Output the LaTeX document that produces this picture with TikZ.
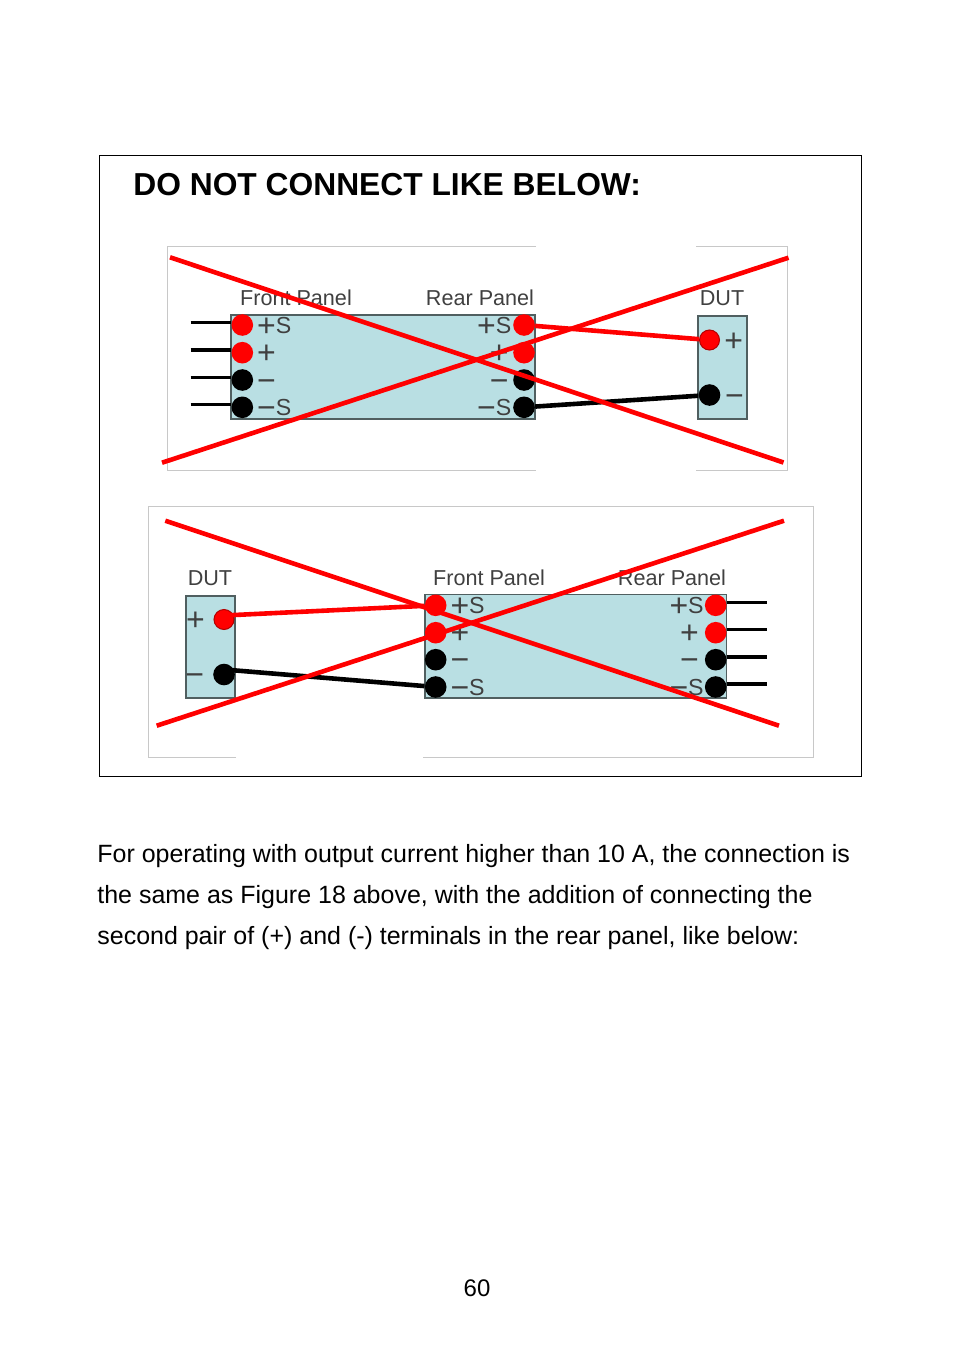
\documentclass[tikz,border=0pt]{standalone}
\usepackage{fontspec}
\setmainfont{Liberation Sans}
\usetikzlibrary{positioning}
\definecolor{panelfill}{HTML}{B9DFE3}
\definecolor{paneledge}{HTML}{505F60}
\definecolor{framegrey}{HTML}{C8C8C8}
\definecolor{labelgrey}{HTML}{404040}
\newcommand{\plussign}{\raisebox{-1.3pt}{\fontsize{16}{16}\selectfont +}}
\newcommand{\minussign}{\raisebox{-1.3pt}{\fontsize{16}{16}\selectfont −}}
\begin{document}
\begin{tikzpicture}[x=0.5pt, y=-0.5pt,
            panel/.style={draw=paneledge, line width=0.8pt, fill=panelfill, inner sep=0pt},
            redpin/.style={circle, fill=red, minimum size=10.8pt, inner sep=0pt},
            blackpin/.style={circle, fill=black, minimum size=10.8pt, inner sep=0pt},
            pinlabel/.style={text=labelgrey, font=\fontsize{11.6}{12}\selectfont, inner sep=0pt, text height=8pt, text depth=0pt, yshift=-0.2pt},
            title/.style={text=labelgrey, font=\fontsize{10.8}{12}\selectfont, inner sep=0pt},
            stub/.style={line width=1.7pt, black},
            redwire/.style={line width=2.3pt, red},
            blackwire/.style={line width=2.3pt, black},
            cross/.style={line width=2.3pt, red},
            sheet/.style={draw=framegrey, line width=0.5pt}]

            % Page size
            \useasboundingbox (0,0) rectangle (954,1354);

            % Outer box and heading
            \node[draw, line width=0.5pt, minimum width=381pt, minimum height=310.5pt, inner sep=0pt] (outer) at (480,465.5) {};
            \node[font=\fontsize{15.88}{20}\selectfont\bfseries, anchor=base west, inner sep=0pt] (heading) at (133,195) {DO NOT CONNECT LIKE BELOW:};

            % Upper sheet, open between panel and DUT
            \draw[sheet] (536,246.5) -- (167.5,246.5) -- (167.5,470.5) -- (536,470.5);
            \draw[sheet] (696,246.5) -- (787.5,246.5) -- (787.5,470.5) -- (696,470.5);

            % Upper panel and DUT
            \node[panel, minimum width=152pt, minimum height=52pt] (panelA) at (383,367) {};
            \node[panel, minimum width=24.5pt, minimum height=51.5pt] (dutA) at (722.5,367.5) {};
            \node[title, anchor=base] (frontA) at (296,305.5) {Front Panel};
            \node[title, anchor=base] (rearA) at (480,305.5) {Rear Panel};
            \node[title, anchor=base] (dutnameA) at (722,305.5) {DUT};

            % Upper wires
            \coordinate (stubA1) at (190.5,322.7);
            \coordinate (stubA2) at (190.5,350);
            \coordinate (stubA3) at (190.5,377.2);
            \coordinate (stubA4) at (190.5,404.7);
            \draw[stub] (stubA1) -- (231,322.7);
            \draw[stub] (stubA2) -- (231,350);
            \draw[stub] (stubA3) -- (231,377.2);
            \draw[stub] (stubA4) -- (231,404.7);

            % Upper terminals
            \node[redpin] (lA1) at (242.3,325) {};
            \node[redpin] (lA2) at (242.3,352.7) {};
            \node[blackpin] (lA3) at (242.3,380) {};
            \node[blackpin] (lA4) at (242.3,407.3) {};
            \node[redpin] (rA1) at (524,325) {};
            \node[redpin] (rA2) at (524,352.7) {};
            \node[blackpin] (rA3) at (524,380) {};
            \node[blackpin] (rA4) at (524,407.3) {};
            \node[redpin, draw=red!70!black, line width=0.5pt, minimum size=10pt] (dA1) at (709.5,340) {};
            \node[blackpin] (dA2) at (709.5,395) {};
            \draw[redwire] (rA1) -- (dA1);
            \draw[blackwire] (rA4) -- (dA2);

            % Upper terminal labels
            \node[pinlabel, right=1.6pt of lA1] (ltA1) {\plussign S};
            \node[pinlabel, right=1.6pt of lA2] (ltA2) {\plussign};
            \node[pinlabel, right=1.6pt of lA3] (ltA3) {\minussign};
            \node[pinlabel, right=1.6pt of lA4] (ltA4) {\minussign S};
            \node[pinlabel, left=0.5pt of rA1] (rtA1) {\plussign S};
            \node[pinlabel, left=1.9pt of rA2] (rtA2) {\plussign};
            \node[pinlabel, left=1.9pt of rA3] (rtA3) {\minussign};
            \node[pinlabel, left=0.5pt of rA4] (rtA4) {\minussign S};
            \node[pinlabel, right=2pt of dA1] (dtA1) {\plussign};
            \node[pinlabel, right=2pt of dA2] (dtA2) {\minussign};

            % Upper cross
            \coordinate (crossA1) at (170,257.3);
            \coordinate (crossA2) at (783.5,462.5);
            \coordinate (crossA3) at (162,462.7);
            \coordinate (crossA4) at (788.5,257.7);
            \draw[cross] (crossA1) -- (crossA2);
            \draw[cross] (crossA3) -- (crossA4);

            % Lower sheet, open under the gap
            \draw[sheet] (236,757.5) -- (148.5,757.5) -- (148.5,506.5) -- (813.5,506.5) -- (813.5,757.5) -- (423,757.5);

            % Lower panel and DUT
            \node[panel, minimum width=150.8pt, minimum height=51.7pt] (panelB) at (575.8,646.3) {};
            \node[panel, minimum width=24.5pt, minimum height=51pt] (dutB) at (210.2,647) {};
            \node[title, anchor=base] (frontB) at (489,585.5) {Front Panel};
            \node[title, anchor=base] (rearB) at (672,585.5) {Rear Panel};
            \node[title, anchor=base] (dutnameB) at (210,585.5) {DUT};

            % Lower wires
            \coordinate (stubB1) at (766.7,602.5);
            \coordinate (stubB2) at (766.7,629.7);
            \coordinate (stubB3) at (766.7,656.8);
            \coordinate (stubB4) at (766.7,684);
            \draw[stub] (stubB1) -- (727,602.5);
            \draw[stub] (stubB2) -- (727,629.7);
            \draw[stub] (stubB3) -- (727,656.8);
            \draw[stub] (stubB4) -- (727,684);

            % Lower terminals
            \node[redpin] (lB1) at (435.7,605.3) {};
            \node[redpin] (lB2) at (435.7,632.7) {};
            \node[blackpin] (lB3) at (435.7,659.7) {};
            \node[blackpin] (lB4) at (435.7,687) {};
            \node[redpin] (rB1) at (715.7,605.3) {};
            \node[redpin] (rB2) at (715.7,632.7) {};
            \node[blackpin] (rB3) at (715.7,659.7) {};
            \node[blackpin] (rB4) at (715.7,687) {};
            \node[redpin, draw=red!70!black, line width=0.5pt, minimum size=10pt] (dB1) at (224,619.5) {};
            \node[blackpin] (dB2) at (224,674.5) {};
            \draw[redwire] ([yshift=2pt]dB1.center) -- (lB1);
            \draw[blackwire] ([yshift=2.5pt]dB2.center) -- (lB4);

            % Lower terminal labels
            \node[pinlabel, right=1.6pt of lB1] (ltB1) {\plussign S};
            \node[pinlabel, right=1.6pt of lB2] (ltB2) {\plussign};
            \node[pinlabel, right=1.6pt of lB3] (ltB3) {\minussign};
            \node[pinlabel, right=1.6pt of lB4] (ltB4) {\minussign S};
            \node[pinlabel, left=0.2pt of rB1] (rtB1) {\plussign S};
            \node[pinlabel, left=2.7pt of rB2] (rtB2) {\plussign};
            \node[pinlabel, left=2.7pt of rB3] (rtB3) {\minussign};
            \node[pinlabel, left=0.2pt of rB4] (rtB4) {\minussign S};
            \node[pinlabel, left=4.2pt of dB1] (dtB1) {\plussign};
            \node[pinlabel, left=4.2pt of dB2] (dtB2) {\minussign};

            % Lower cross
            \coordinate (crossB1) at (165.3,520.7);
            \coordinate (crossB2) at (779,725.7);
            \coordinate (crossB3) at (156.7,725.7);
            \coordinate (crossB4) at (784,520.7);
            \draw[cross] (crossB1) -- (crossB2);
            \draw[cross] (crossB3) -- (crossB4);

            % Body text and page number
            \node[font=\fontsize{12.49}{20.5}\selectfont, align=left, anchor=north west, inner sep=0pt] (body) at (97,844) {For operating with output current higher than 10 A, the connection is\\the same as Figure 18 above, with the addition of connecting the\\second pair of (+) and (-) terminals in the rear panel, like below:};
            \node[font=\fontsize{12}{14}\selectfont, anchor=base, inner sep=0pt] (pagenum) at (477,1296) {60};
        \end{tikzpicture}
\end{document}
